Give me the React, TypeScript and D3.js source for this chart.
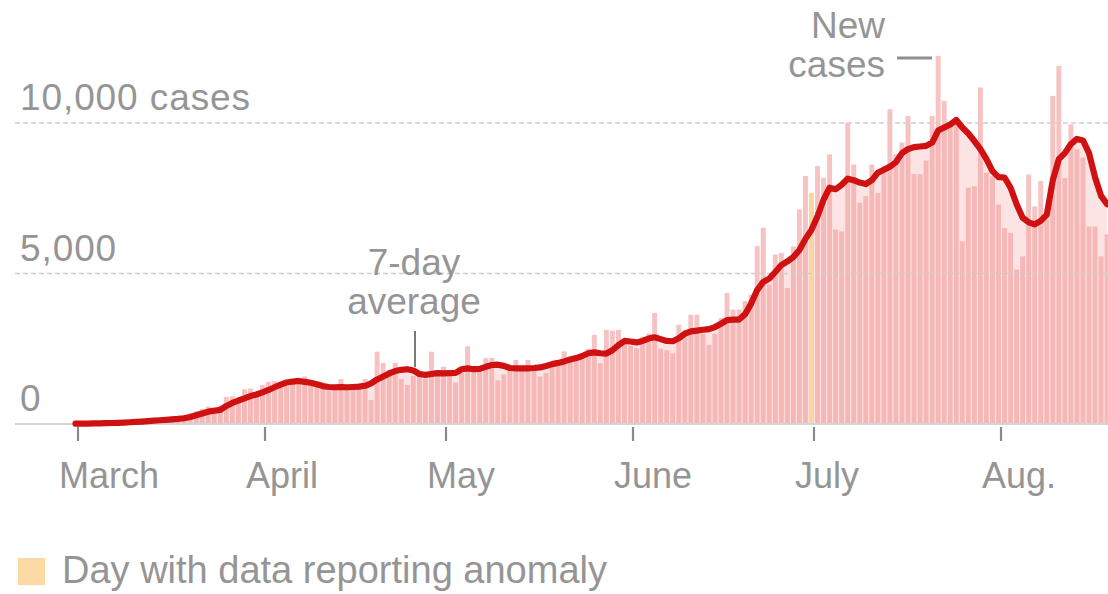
import { useRef, useEffect } from 'react';
import * as d3 from 'd3';

// Daily new cases, starting March 1 (one value per day)
const startDate = '2020-03-01';

const dailyCases = [
    // March
    2, 5, 8, 10, 15, 20, 25, 30, 40, 50, 60, 75, 90, 110, 120, 130, 150, 180, 280, 350, 420, 500, 580, 550, 600, 900, 920, 750, 1150, 1180, 1000,
    // April
    1300, 1400, 1420, 1350, 1250, 1380, 1500, 1580, 1300, 1250, 1200, 1100, 1300, 1490, 1250, 1150, 1200, 1490, 800, 2400, 2030, 1800, 2030, 1500, 1300, 1600, 1690, 1500, 2400, 1600,
    // May
    1900, 1700, 1380, 1700, 2580, 1800, 1900, 2190, 2200, 1450, 1650, 1800, 2130, 1900, 2130, 1800, 1580, 1700, 2000, 2100, 2410, 2100, 2200, 2300, 2500, 2960, 2020, 3130, 3100, 3130, 2700,
    // June
    2600, 2520, 2900, 3000, 3690, 2500, 2450, 2350, 3300, 3100, 3630, 3630, 3000, 2630, 3000, 3520, 4350, 3800, 3800, 4080, 4300, 5910, 6520, 4630, 5630, 5680, 4520, 5900, 7130, 8240,
    // July
    7680, 8570, 8180, 8960, 6460, 6400, 10010, 8620, 7350, 7570, 8620, 7680, 8570, 10460, 8960, 9350, 10230, 8300, 8300, 8750, 10230, 12230, 10730, 9900, 10120, 6070, 7850, 7900, 11180, 8350, 8230,
    // August
    7290, 6510, 6350, 5130, 5570, 8290, 7230, 8070, 6790, 10900, 11900, 8170, 9950, 9130, 8850, 6560, 6560, 5570, 6300,
];

const sevenDayAvg = [
    // March
    10, 12, 15, 18, 22, 27, 33, 40, 48, 58, 70, 82, 95, 110, 125, 140, 155, 170, 190, 230, 290, 350, 410, 440, 470, 600, 700, 780, 850, 930, 980,
    // April
    1050, 1130, 1220, 1310, 1380, 1410, 1430, 1400, 1370, 1320, 1260, 1230, 1220, 1230, 1220, 1230, 1240, 1270, 1350, 1480, 1580, 1680, 1760, 1800, 1820, 1780, 1660, 1630, 1660, 1690,
    // May
    1680, 1690, 1700, 1820, 1850, 1820, 1830, 1900, 1960, 1970, 1930, 1860, 1850, 1850, 1850, 1860, 1880, 1930, 1990, 2030, 2080, 2140, 2190, 2260, 2350, 2380, 2350, 2340, 2450, 2620, 2760,
    // June
    2740, 2710, 2760, 2840, 2880, 2820, 2760, 2750, 2850, 3000, 3080, 3100, 3130, 3150, 3220, 3330, 3450, 3470, 3470, 3650, 4000, 4450, 4720, 4830, 5050, 5280, 5400, 5550, 5780, 6150,
    // July
    6450, 6900, 7450, 7850, 7800, 7950, 8150, 8100, 8020, 7970, 8100, 8350, 8450, 8550, 8700, 9000, 9130, 9200, 9220, 9240, 9350, 9750, 9850, 9950, 10100, 9850, 9650, 9400, 9130, 8800, 8400,
    // August
    8200, 8190, 7850, 7300, 6850, 6700, 6630, 6750, 6950, 8100, 8800, 9000, 9300, 9470, 9420, 9000, 8200, 7580, 7300,
];

const anomalyDays = ['2020-07-01'];

const monthTicks = ['2020-03-01', '2020-04-01', '2020-05-01', '2020-06-01', '2020-07-01', '2020-08-01'];
const monthLabels = ['March', 'April', 'May', 'June', 'July', 'Aug.'];

const yTicks = [0, 5000, 10000];
const yTickLabels = ['0', '5,000', '10,000 cases'];

const FONT = '"Liberation Sans", Arial, sans-serif';
const GREY_TEXT = '#959595';

export default function App() {
    const svgRef = useRef<SVGSVGElement>(null);

    useEffect(() => {
        if (!svgRef.current) return;
        const svg = d3.select(svgRef.current);
        svg.selectAll('*').remove();

        const parse = d3.utcParse('%Y-%m-%d');
        const t0 = parse(startDate)!;
        const anomalySet = new Set(anomalyDays);
        const fmt = d3.utcFormat('%Y-%m-%d');

        const days = dailyCases.map((v, i) => {
            const date = d3.utcDay.offset(t0, i);
            return { date, cases: v, avg: sevenDayAvg[i], anomaly: anomalySet.has(fmt(date)) };
        });

        const x = d3.scaleUtc()
            .domain([parse('2020-03-01')!, parse('2020-08-01')!])
            .range([78, 1001]);
        const y = d3.scaleLinear().domain([0, 10000]).range([424, 123]);

        const step = x(d3.utcDay.offset(t0, 1)) - x(t0);
        const barW = step - 1.1;
        const shift = -2.5; // bars sit just left of the date tick

        // Faint area under the 7-day average
        const area = d3.area<typeof days[0]>()
            .x(d => x(d.date) + shift)
            .y0(y(0))
            .y1(d => y(d.avg));

        svg.append('path')
            .datum(days)
            .attr('d', area)
            .attr('fill', '#fde4e4');

        // Daily bars
        svg.append('g').selectAll('rect')
            .data(days)
            .enter().append('rect')
            .attr('x', d => x(d.date) + shift - barW / 2)
            .attr('y', d => y(d.cases))
            .attr('width', barW)
            .attr('height', d => y(0) - y(d.cases))
            .attr('fill', d => d.anomaly ? '#fbd49f' : '#f29a9a')
            .attr('opacity', d => d.anomaly ? 1 : 0.6);

        // Gridlines
        yTicks.forEach(t => {
            svg.append('line')
                .attr('x1', 15)
                .attr('x2', 1108)
                .attr('y1', y(t))
                .attr('y2', y(t))
                .attr('stroke', t === 0 ? '#d4d4d4' : '#cfcfcf')
                .attr('stroke-width', t === 0 ? 2 : 1.5)
                .attr('stroke-dasharray', t === 0 ? null : '5,3');
        });

        // Y labels
        yTicks.forEach((t, i) => {
            svg.append('text')
                .attr('x', 20)
                .attr('y', y(t) - 13)
                .attr('font-family', FONT)
                .attr('font-size', 37)
                .attr('letter-spacing', 0.9)
                .attr('fill', GREY_TEXT)
                .text(yTickLabels[i]);
        });

        // 7-day average line
        const line = d3.line<typeof days[0]>()
            .x(d => x(d.date) + shift)
            .y(d => y(d.avg));

        svg.append('path')
            .datum(days)
            .attr('d', line)
            .attr('fill', 'none')
            .attr('stroke', '#cf1111')
            .attr('stroke-width', 6.2)
            .attr('stroke-linejoin', 'round')
            .attr('stroke-linecap', 'round');

        // Month ticks + labels
        monthTicks.forEach((m, i) => {
            const mx = x(parse(m)!);
            svg.append('line')
                .attr('x1', mx).attr('x2', mx)
                .attr('y1', 427).attr('y2', 441)
                .attr('stroke', '#8a8a8a')
                .attr('stroke-width', 2.2);
            svg.append('text')
                .attr('x', mx - 19)
                .attr('y', 488)
                .attr('font-family', FONT)
                .attr('font-size', 36)
                .attr('fill', GREY_TEXT)
                .text(monthLabels[i]);
        });

        // "7-day average" annotation
        const ann = svg.append('g').attr('font-family', FONT).attr('font-size', 37).attr('fill', GREY_TEXT).attr('text-anchor', 'middle');
        ann.append('text').attr('x', 414).attr('y', 275).text('7-day');
        ann.append('text').attr('x', 414).attr('y', 314).text('average');
        svg.append('line')
            .attr('x1', 415).attr('x2', 415)
            .attr('y1', 331).attr('y2', 367)
            .attr('stroke', '#7a7a7a')
            .attr('stroke-width', 2);

        // "New cases" annotation
        const ann2 = svg.append('g').attr('font-family', FONT).attr('font-size', 37).attr('fill', GREY_TEXT).attr('text-anchor', 'end');
        ann2.append('text').attr('x', 885).attr('y', 38).text('New');
        ann2.append('text').attr('x', 885).attr('y', 77).text('cases');
        svg.append('line')
            .attr('x1', 897).attr('x2', 932)
            .attr('y1', 58).attr('y2', 58)
            .attr('stroke', '#8f8f8f')
            .attr('stroke-width', 3);

        // Legend
        svg.append('rect')
            .attr('x', 18).attr('y', 558)
            .attr('width', 27).attr('height', 27)
            .attr('fill', '#fcd9a2');
        svg.append('text')
            .attr('x', 62).attr('y', 583)
            .attr('font-family', FONT)
            .attr('font-size', 38)
            .attr('fill', GREY_TEXT)
            .text('Day with data reporting anomaly');
    }, []);

    return (
        <svg
            ref={svgRef}
            width={1108}
            height={594}
            style={{ position: 'absolute', left: 0, top: 0, background: '#fff' }}
        />
    );
}
